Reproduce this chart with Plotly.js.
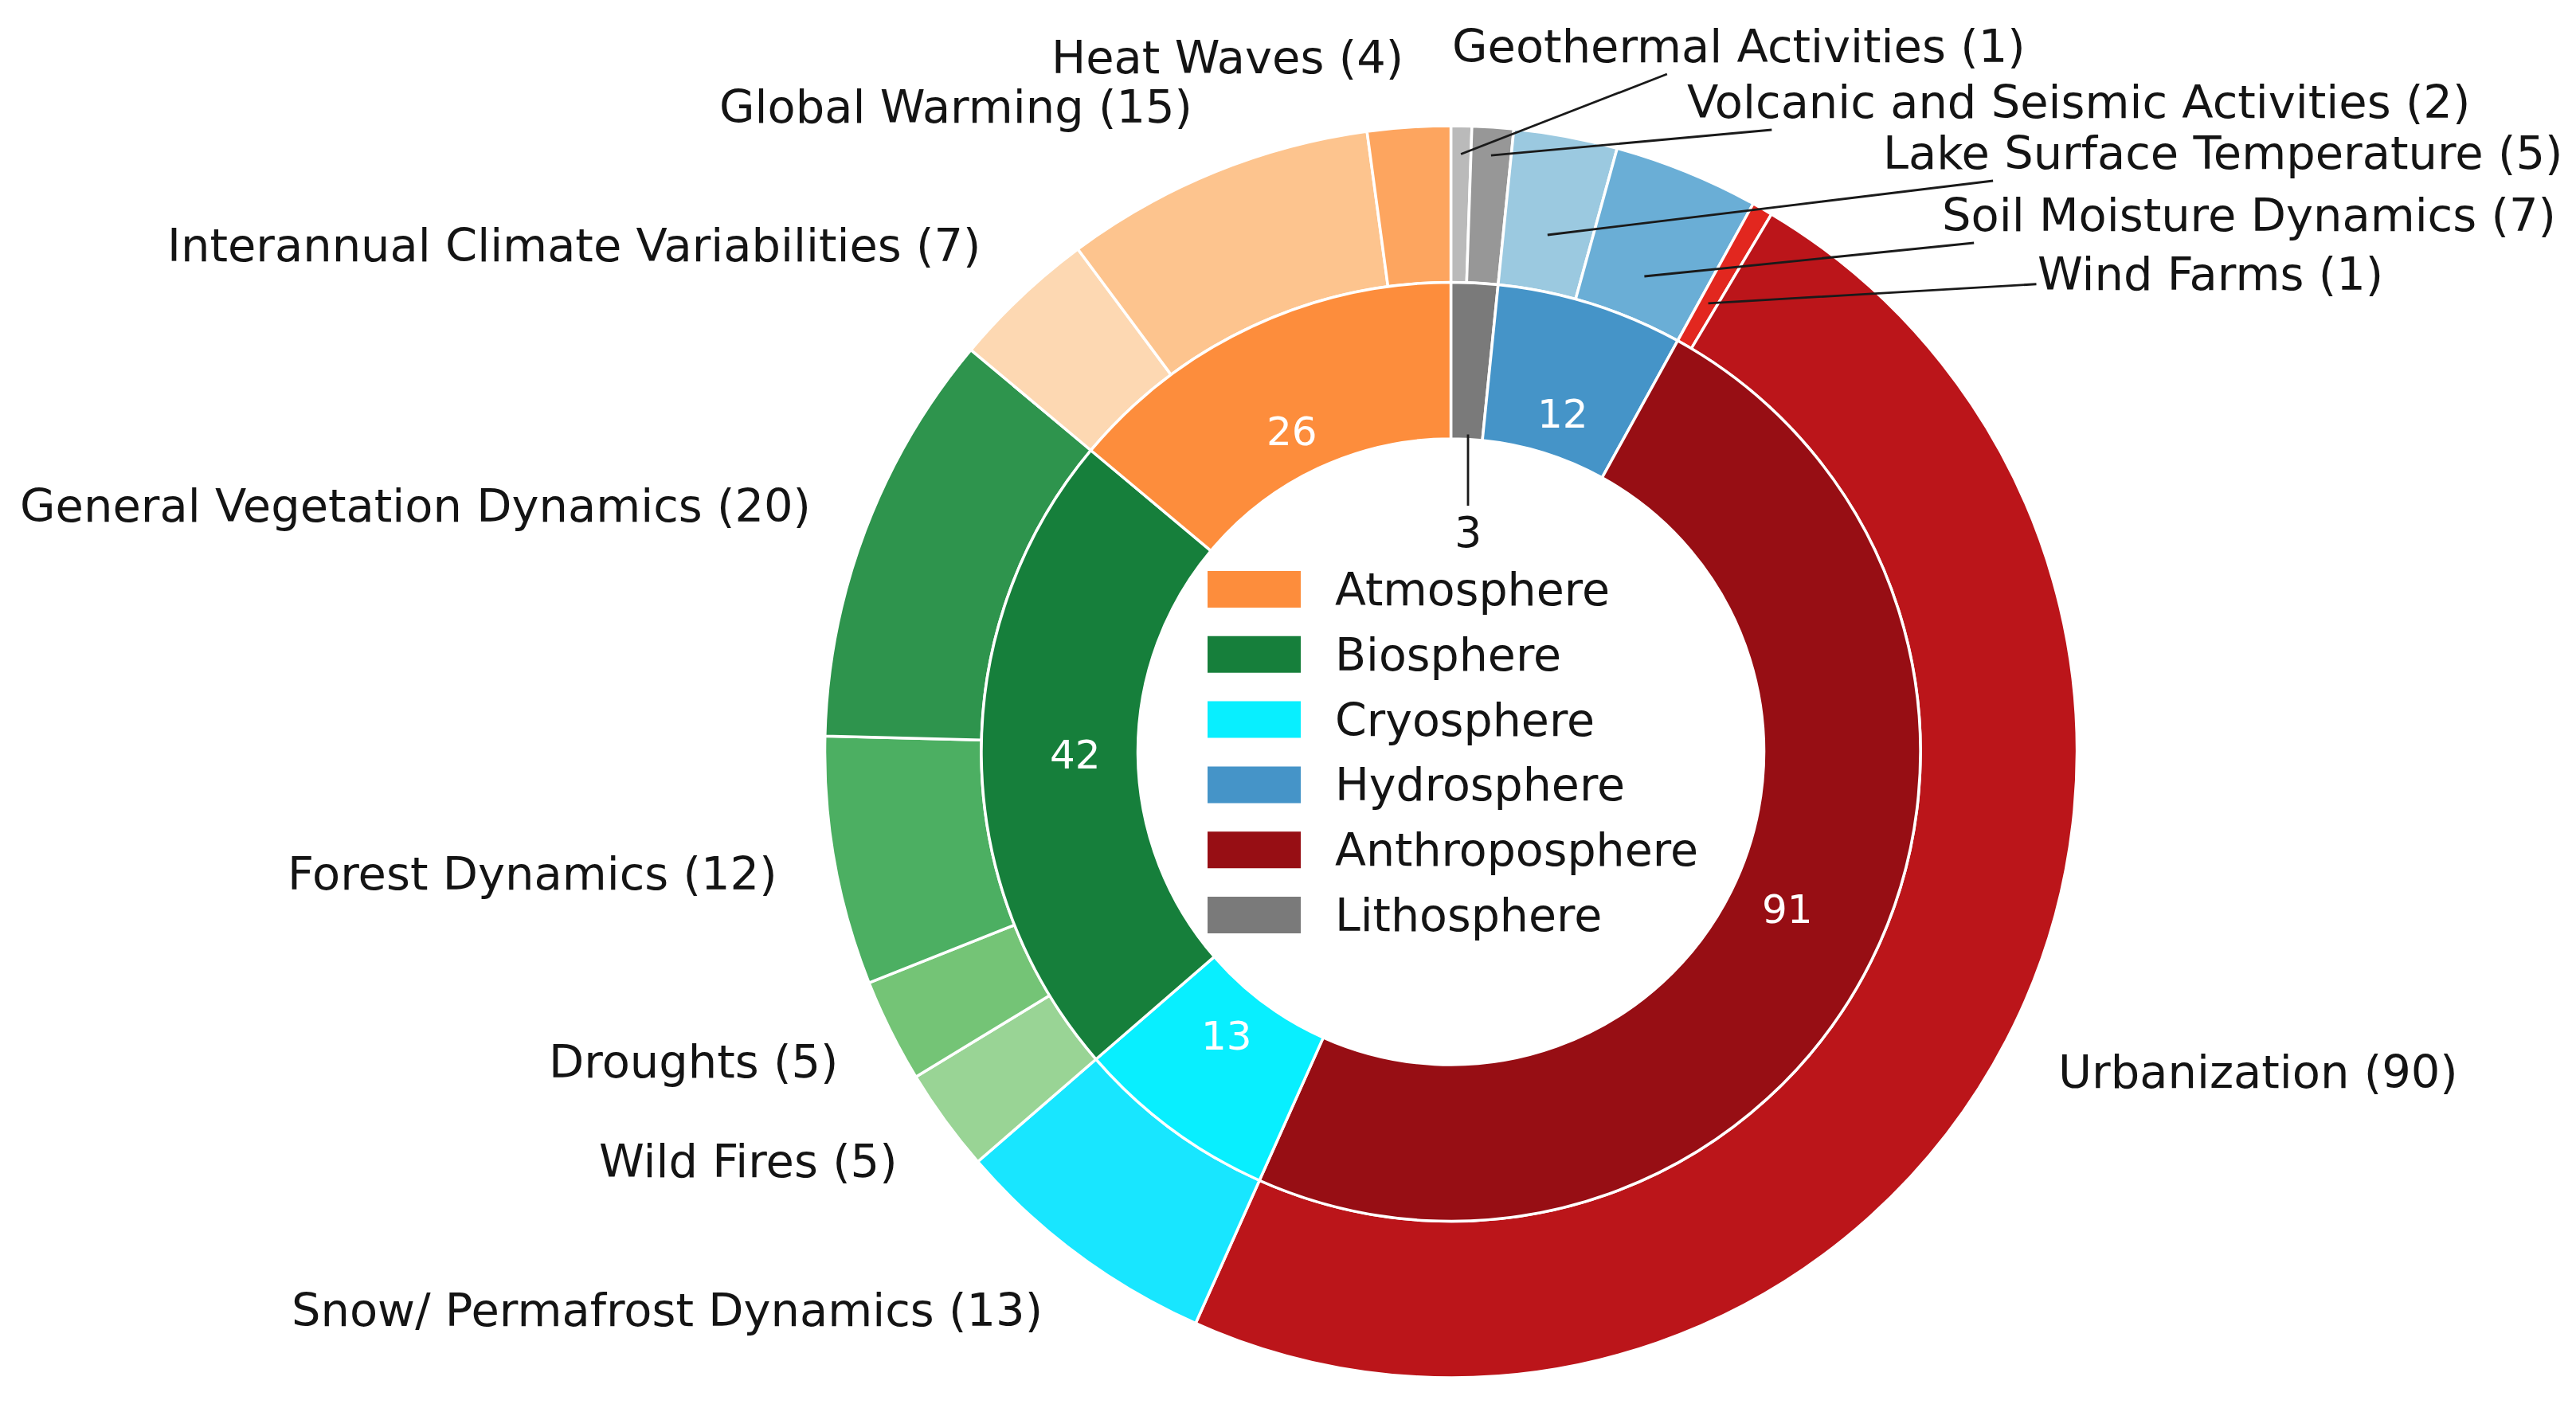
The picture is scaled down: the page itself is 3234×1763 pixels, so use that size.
<!DOCTYPE html>
<html><head><meta charset="utf-8">
<script src="https://cdn.plot.ly/plotly-3.0.1.min.js"></script>
<style>html,body{margin:0;padding:0;background:#fff}#chart{width:3234px;height:1763px}</style>
</head><body><div id="chart"></div>
<script>
// Inner ring: spheres, listed counterclockwise from 12 o'clock
const sphereLabels = ['Atmosphere','Biosphere','Cryosphere','Anthroposphere','Hydrosphere','Lithosphere'];
const sphereValues = [26, 42, 13, 91, 12, 3];
const sphereColors = ['#fd8d3c','#167f3b','#08efff','#970e14','#4594c8','#7a7a7a'];

// Outer ring: topics, listed counterclockwise from 12 o'clock
const topicLabels = ['Heat Waves','Global Warming','Interannual Climate Variabilities',
  'General Vegetation Dynamics','Forest Dynamics','Droughts','Wild Fires',
  'Snow/ Permafrost Dynamics','Urbanization','Wind Farms','Soil Moisture Dynamics',
  'Lake Surface Temperature','Volcanic and Seismic Activities','Geothermal Activities'];
const topicValues = [4, 15, 7, 20, 12, 5, 5, 13, 90, 1, 7, 5, 2, 1];
const topicColors = ['#fda55f','#fdc48e','#fdd8b2','#2e944d','#4caf62','#74c476','#99d495',
  '#18e6ff','#bb151a','#e2271f','#6aaed6','#9bc9e0','#979797','#bababa'];

// Legend order
const legendLabels = ['Atmosphere','Biosphere','Cryosphere','Hydrosphere','Anthroposphere','Lithosphere'];

// ---- layout geometry (pixels) ----
const W = 3234, H = 1763;
const CX = 1821.5, CY = 944, R = 786;
const LRX = 779, LRY = 794;          // label placement radii (x / y)
const FONT = 'DejaVu Sans';
const TXT = '#141414';
const LABEL_SIZE = 57.5, LEGEND_SIZE = 57, NUM_SIZE = 50;

// callout placements for small slices: tip radius fraction, text centre (px)
const topicCallouts = {
  'Geothermal Activities': {r: 0.955, tx: 2183, ty: 58},
  'Volcanic and Seismic Activities': {r: 0.955, tx: 2609, ty: 128},
  'Lake Surface Temperature': {r: 0.84, tx: 2790, ty: 192},
  'Soil Moisture Dynamics': {r: 0.82, tx: 2823, ty: 270},
  'Wind Farms': {r: 0.826, tx: 2775, ty: 344}
};
const sphereCallouts = {
  'Lithosphere': {tx: 1843, ty: 668}
};

const px = x => x / W;
const py = y => 1 - y / H;

function midAngles(values) {
  const total = values.reduce((a, b) => a + b, 0);
  let cum = 0;
  return values.map(v => {
    const a = 90 + 360 * (cum + v / 2) / total;
    cum += v;
    return a * Math.PI / 180;
  });
}
function pt(theta, r) {
  return [CX + r * R * Math.cos(theta), CY - r * R * Math.sin(theta)];
}

const annotations = [];
const shapes = [];

// outer labels
const tAng = midAngles(topicValues);
topicLabels.forEach((lab, i) => {
  const text = lab + ' (' + topicValues[i] + ')';
  const c = topicCallouts[lab];
  if (c) {
    const [x, y] = pt(tAng[i], c.r);
    annotations.push({x: px(x), y: py(y), xref: 'paper', yref: 'paper', text: text,
      showarrow: true, arrowhead: 0, arrowwidth: 2.8, arrowcolor: '#1a1a1a', standoff: 0,
      ax: c.tx - x, ay: c.ty - y, font: {family: FONT, size: LABEL_SIZE, color: TXT}});
  } else {
    const x = CX + 1.1 * LRX * Math.cos(tAng[i]);
    const y = CY - 1.1 * LRY * Math.sin(tAng[i]);
    annotations.push({x: px(x), y: py(y), xref: 'paper', yref: 'paper', text: text,
      showarrow: false, xanchor: Math.cos(tAng[i]) > 0 ? 'left' : 'right', yanchor: 'middle',
      font: {family: FONT, size: LABEL_SIZE, color: TXT}});
  }
});

// inner numbers
const sAng = midAngles(sphereValues);
sphereLabels.forEach((lab, i) => {
  const c = sphereCallouts[lab];
  if (c) {
    const rh = 0.5 * R + 6;
    const x = c.tx;
    const y = CY - Math.sqrt(rh * rh - (x - CX) * (x - CX));
    annotations.push({x: px(x), y: py(y), xref: 'paper', yref: 'paper', text: String(sphereValues[i]),
      showarrow: true, arrowhead: 0, arrowwidth: 2.8, arrowcolor: '#1a1a1a', standoff: 0,
      ax: 0, ay: c.ty - y, font: {family: FONT, size: 54, color: TXT}});
  } else {
    const x = CX + 0.6 * R * Math.cos(sAng[i]);
    const y = CY - 0.565 * R * Math.sin(sAng[i]);
    annotations.push({x: px(x), y: py(y), xref: 'paper', yref: 'paper', text: String(sphereValues[i]),
      showarrow: false, xanchor: 'center', yanchor: 'middle',
      font: {family: FONT, size: NUM_SIZE, color: '#ffffff'}});
  }
});

// legend (patches + labels)
legendLabels.forEach((lab, i) => {
  const yc = 740 + i * 81.8;
  const col = sphereColors[sphereLabels.indexOf(lab)];
  shapes.push({type: 'rect', xref: 'paper', yref: 'paper',
    x0: px(1516), x1: px(1633), y0: py(yc + 23), y1: py(yc - 23),
    fillcolor: col, line: {width: 0}});
  annotations.push({x: px(1674), y: py(yc), xref: 'paper', yref: 'paper', text: lab,
    showarrow: false, xanchor: 'left', yanchor: 'middle',
    font: {family: FONT, size: LEGEND_SIZE, color: TXT}});
});

const rev = a => a.slice().reverse();
const Ro = R, Ri = 0.75 * R;
const outer = {
  type: 'pie', labels: rev(topicLabels), values: rev(topicValues),
  marker: {colors: rev(topicColors), line: {color: '#ffffff', width: 3.5}},
  hole: 0.75, sort: false, direction: 'clockwise', rotation: 0,
  textinfo: 'none', hoverinfo: 'label+value', showlegend: false,
  domain: {x: [px(CX - Ro), px(CX + Ro)], y: [py(CY + Ro), py(CY - Ro)]}
};
const inner = {
  type: 'pie', labels: rev(sphereLabels), values: rev(sphereValues),
  marker: {colors: rev(sphereColors), line: {color: '#ffffff', width: 3.5}},
  hole: 0.5 / 0.75, sort: false, direction: 'clockwise', rotation: 0,
  textinfo: 'none', hoverinfo: 'label+value', showlegend: false,
  domain: {x: [px(CX - Ri), px(CX + Ri)], y: [py(CY + Ri), py(CY - Ri)]}
};

Plotly.newPlot('chart', [outer, inner], {
  width: W, height: H, margin: {l: 0, r: 0, t: 0, b: 0},
  paper_bgcolor: '#ffffff', plot_bgcolor: '#ffffff', showlegend: false,
  font: {family: FONT, color: TXT},
  annotations: annotations, shapes: shapes
}, {displayModeBar: false, staticPlot: true});
</script>
</body></html>
